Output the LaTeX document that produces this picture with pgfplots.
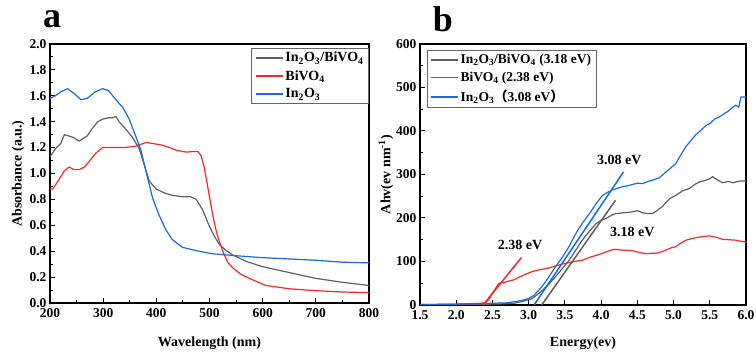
\documentclass[border=0pt]{standalone}
\usepackage{pgfplots}
\pgfplotsset{compat=1.18}
\usepackage{fontspec}
\setmainfont{Liberation Serif}
\newfontfamily\cjk{Noto Sans CJK SC}
\definecolor{cgray}{RGB}{95,95,95}
\definecolor{cred}{RGB}{245,40,40}
\definecolor{cblue}{RGB}{25,105,225}
\pgfplotsset{
  common/.style={
    scale only axis,
    axis line style={line width=1.3pt},
    every tick/.style={line width=1pt, black},
    major tick length=5pt, minor tick length=3pt,
    xtick pos=left, ytick pos=left,
    /pgf/number format/assume math mode=true,
    tick label style={font=\bfseries\fontsize{13.5}{13.5}\selectfont},
    xticklabel style={yshift=-2pt},
    label style={font=\bfseries\fontsize{14}{14}\selectfont},
    legend style={draw=black!60, line width=0.8pt,
      inner xsep=3pt, inner ysep=2pt, row sep=3pt, cells={anchor=west}},
    legend image code/.code={\draw[#1, line width=1.6pt] (0pt,0pt) -- (27pt,0pt);},
  }
}
\begin{document}
\begin{tikzpicture}
\useasboundingbox (0,0) rectangle (756pt,353pt);
\node[anchor=base, font=\bfseries\fontsize{36}{36}\selectfont] at (52pt,325pt) {a};
\node[anchor=base, font=\bfseries\fontsize{36}{36}\selectfont] at (443pt,321pt) {b};
\begin{axis}[common,
  at={(50pt,50pt)}, anchor=south west,
  width=319pt, height=259pt,
  xmin=200, xmax=800, ymin=0, ymax=2.0,
  xtick={200,300,...,800}, ytick={0,0.2,...,2.01},
  minor x tick num=1, minor y tick num=1,
  yticklabel style={/pgf/number format/.cd, fixed, fixed zerofill, precision=1},
  xlabel={Wavelength (nm)}, ylabel={Absorbance (a.u.)},
  xlabel style={yshift=-12pt}, ylabel style={yshift=-2pt},
  legend style={at={(1,0.985)}, anchor=north east, font=\bfseries\fontsize{14}{14}\selectfont},
]
\addplot[cgray, line width=1.2pt] coordinates {
(200,1.13)(205,1.16)(212,1.20)(220,1.23)(227,1.30)(235,1.29)(243,1.28)(255,1.25)(262,1.27)(270,1.29)(280,1.35)(290,1.40)(299,1.42)(310,1.43)(318,1.43)(324,1.44)(330,1.40)(343,1.34)(355,1.28)(368,1.19)(380,1.03)(387,0.94)(400,0.88)(415,0.85)(431,0.83)(450,0.82)(465,0.82)(475,0.80)(487,0.72)(500,0.59)(510,0.51)(519,0.45)(530,0.41)(544,0.37)(570,0.32)(600,0.28)(650,0.235)(700,0.19)(750,0.16)(800,0.135)};
\addlegendentry{In\textsubscript{2}O\textsubscript{3}/BiVO\textsubscript{4}}
\addplot[cred, line width=1.2pt] coordinates {
(200,0.88)(205,0.88)(210,0.91)(218,0.96)(227,1.02)(236,1.05)(245,1.03)(255,1.03)(265,1.05)(275,1.10)(287,1.16)(299,1.20)(320,1.20)(340,1.20)(360,1.21)(381,1.24)(395,1.23)(410,1.22)(425,1.20)(437,1.18)(456,1.165)(470,1.17)(478,1.17)(484,1.14)(490,1.05)(497,0.89)(506,0.68)(513,0.55)(519,0.47)(527,0.38)(535,0.31)(544,0.27)(560,0.22)(575,0.19)(606,0.135)(650,0.11)(700,0.095)(750,0.085)(800,0.08)};
\addlegendentry{BiVO\textsubscript{4}}
\addplot[cblue, line width=1.2pt] coordinates {
(200,1.58)(210,1.60)(220,1.63)(233,1.655)(245,1.62)(258,1.57)(270,1.58)(285,1.63)(299,1.655)(310,1.64)(318,1.60)(330,1.54)(337,1.51)(349,1.42)(362,1.28)(371,1.18)(378,1.06)(384,0.96)(393,0.81)(405,0.68)(418,0.565)(430,0.49)(449,0.43)(480,0.40)(506,0.38)(550,0.365)(600,0.35)(650,0.34)(700,0.33)(750,0.315)(800,0.31)};
\addlegendentry{In\textsubscript{2}O\textsubscript{3}}
\end{axis}
\begin{axis}[common,
  at={(420pt,48pt)}, anchor=south west,
  width=326pt, height=261pt,
  xmin=1.5, xmax=6.0, ymin=0, ymax=600,
  xtick={1.5,2.0,...,6.01}, ytick={0,100,...,600},
  minor y tick num=1,
  xticklabel style={/pgf/number format/.cd, fixed, fixed zerofill, precision=1},
  xlabel={Energy(ev)}, ylabel={Ahv(ev nm\textsuperscript{-1})},
  xlabel style={yshift=-10pt}, ylabel style={yshift=-4pt},
  legend style={at={(0.02,0.977)}, anchor=north west, font=\bfseries\fontsize{13.5}{13.5}\selectfont},
]
\addplot[cgray, line width=1.2pt] coordinates {
(1.5,0.5)(2.0,1)(2.5,2)(2.7,3)(2.8,4)(2.91,8)(3.0,12)(3.05,15)(3.12,24)(3.19,34)(3.28,48)(3.37,65)(3.46,83)(3.56,103)(3.65,126)(3.74,149)(3.83,168)(3.93,187)(4.0,195)(4.07,199)(4.14,206)(4.2,210)(4.3,212)(4.43,214)(4.5,217)(4.57,212)(4.65,210)(4.71,210)(4.78,218)(4.85,227)(4.95,245)(5.03,252)(5.12,262)(5.22,268)(5.3,278)(5.36,283)(5.45,287)(5.5,290)(5.54,295)(5.6,288)(5.68,281)(5.75,284)(5.82,281)(5.86,283)(5.93,285)(6.0,285)};
\addlegendentry{In\textsubscript{2}O\textsubscript{3}/BiVO\textsubscript{4} (3.18 eV)}
\addplot[cred, line width=1.2pt] coordinates {
(1.5,1)(2.0,2)(2.2,3)(2.35,4)(2.41,6)(2.46,15)(2.5,27)(2.55,40)(2.59,50)(2.66,52)(2.73,55)(2.8,58)(2.87,64)(2.96,71)(3.05,77)(3.15,81)(3.28,85)(3.4,91)(3.51,96)(3.6,99)(3.74,103)(3.85,110)(3.95,115)(4.02,119)(4.1,124)(4.18,128)(4.3,126)(4.43,125)(4.52,121)(4.62,118)(4.7,119)(4.76,119)(4.83,122)(4.89,126)(4.96,131)(5.03,134)(5.1,142)(5.17,149)(5.26,153)(5.35,156)(5.49,159)(5.58,156)(5.68,151)(5.77,150)(5.86,149)(5.94,146)(6.0,145)};
\addlegendentry{BiVO\textsubscript{4} (2.38 eV)}
\addplot[cblue, line width=1.2pt] coordinates {
(1.5,1)(2.0,2)(2.3,3)(2.5,4)(2.7,5)(2.82,8)(2.92,11)(3.0,15)(3.07,22)(3.14,34)(3.21,48)(3.28,65)(3.37,88)(3.47,111)(3.56,135)(3.65,164)(3.74,188)(3.84,210)(3.93,233)(4.02,252)(4.1,260)(4.16,265)(4.3,272)(4.39,275)(4.5,280)(4.57,279)(4.65,284)(4.71,287)(4.8,292)(4.89,305)(5.03,325)(5.1,345)(5.17,364)(5.24,378)(5.31,392)(5.38,402)(5.45,413)(5.5,417)(5.57,428)(5.63,432)(5.7,440)(5.75,445)(5.82,455)(5.86,459)(5.9,455)(5.93,478)(6.0,478)};
\addlegendentry{In\textsubscript{2}O\textsubscript{3}{\cjk （}3.08 eV{\cjk ）}}
\addplot[cblue, line width=1.5pt, forget plot] coordinates {(3.075,0)(4.31,306)};
\addplot[cgray, line width=1.5pt, forget plot] coordinates {(3.18,0)(4.20,241)};
\addplot[cred, line width=1.5pt, forget plot] coordinates {(2.37,0)(2.90,109)};
\node[font=\bfseries\fontsize{14}{14}\selectfont] at (axis cs:2.88,138) {2.38 eV};
\node[font=\bfseries\fontsize{14}{14}\selectfont] at (axis cs:4.25,333) {3.08 eV};
\node[font=\bfseries\fontsize{14}{14}\selectfont] at (axis cs:4.43,168) {3.18 eV};
\end{axis}
\end{tikzpicture}
\end{document}
